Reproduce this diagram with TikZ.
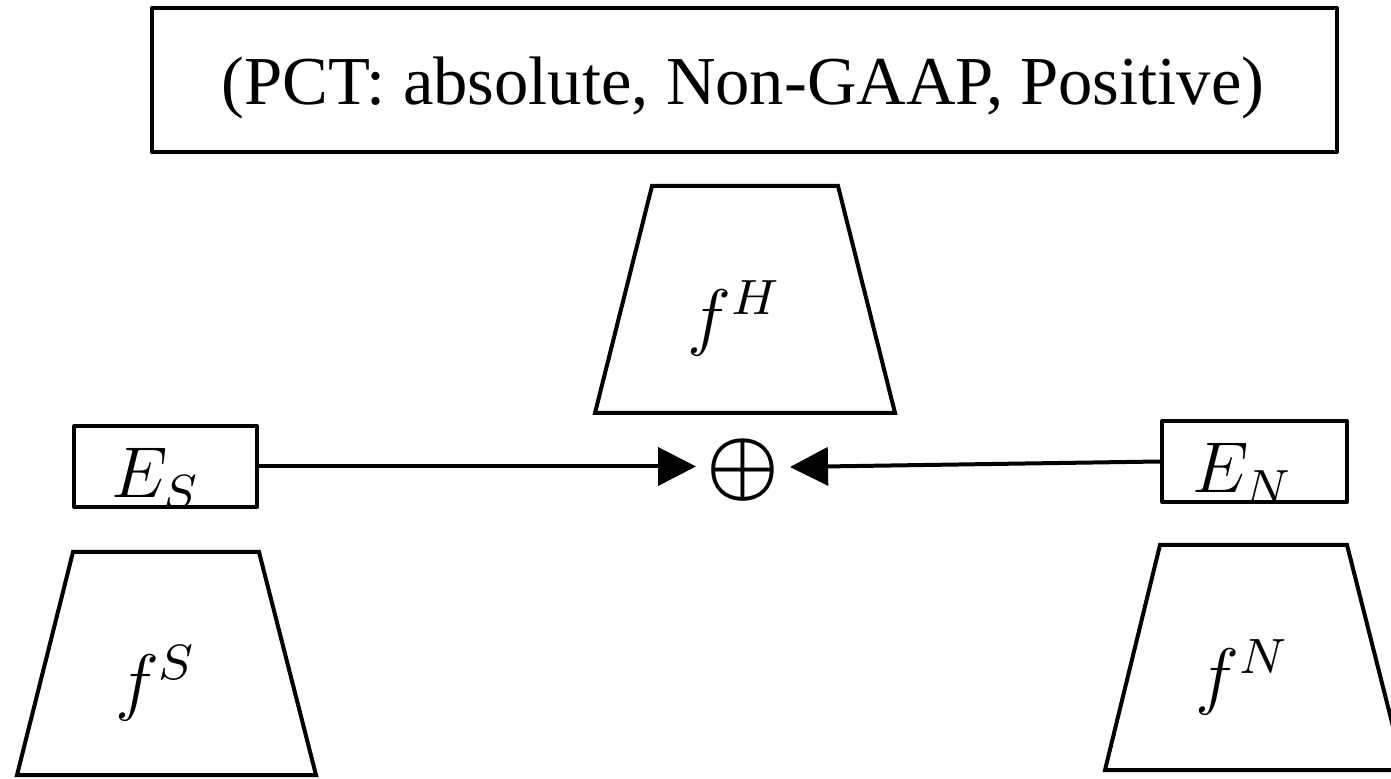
\documentclass[tikz,border=0pt]{standalone}
\usepackage{fontspec}
\setmainfont{Liberation Serif}
\usetikzlibrary{arrows.meta,calc}
\newcommand{\bigmath}[2]{\scalebox{#1}{\fontsize{12}{14}\selectfont$#2$}}
\newcommand{\bigboldmath}[2]{\scalebox{#1}{\fontsize{12}{14}\selectfont\boldmath$#2$}}
\begin{document}
\begin{tikzpicture}[x=0.5pt,y=-0.5pt,
  line width=2pt, line join=round,
  boxstyle/.style={draw, inner sep=0pt, line width=2pt},
  titletext/.style={inner sep=0pt, font=\fontsize{34.3}{40}\selectfont},
  mathtext/.style={inner sep=0pt},
  trap/.style={draw, line width=2pt, line join=miter},
  arr/.style={-{Triangle[length=19pt,width=19pt]}, line width=2pt}]
\useasboundingbox (0,0) rectangle (1391,779);
\clip (0,0) rectangle (1391,779);
% title
\node[boxstyle, minimum width=592.5pt, minimum height=72pt] (title) at (744.5,80) {};
\node[titletext, anchor=base] (titlelabel) at (743,105) {(PCT: absolute, Non-GAAP, Positive)};
% trapezoid H
\draw[trap] (652,186) -- (838,186) -- (895,413) -- (595,413) -- cycle;
\node[mathtext] (fh) at (735,318) {\bigmath{3.1}{f^{H}}};
% trapezoid S
\draw[trap] (73,552) -- (259,552) -- (316,775) -- (17,775) -- cycle;
\node[mathtext] (fs) at (156,683) {\bigmath{3.1}{f^{S}}};
% trapezoid N
\draw[trap] (1160,545) -- (1347,545) -- (1404,770) -- (1105,770) -- cycle;
\node[mathtext] (fn) at (1243,677) {\bigmath{3.1}{f^{N}}};
% E boxes
\node[boxstyle, minimum width=91.5pt, minimum height=40.5pt] (es) at (165.5,466.5) {};
\node[mathtext, anchor=base] (eslabel) at (156,498) {\bigmath{3}{E_{S}}};
\node[boxstyle, minimum width=92.5pt, minimum height=40.5pt] (en) at (1254.5,461.5) {};
\node[mathtext, anchor=base] (enlabel) at (1243,493) {\bigmath{3}{E_{N}}};
% oplus
\node[inner sep=0pt, minimum width=45pt] (oplus) at (743,470) {\bigboldmath{3.4}{\oplus}};
% arrows
\draw[arr] (es.east) -- (es.east -| oplus.west);
\draw[arr] (en.west) -- ([yshift=1.5pt]oplus.east);
\end{tikzpicture}
\end{document}
